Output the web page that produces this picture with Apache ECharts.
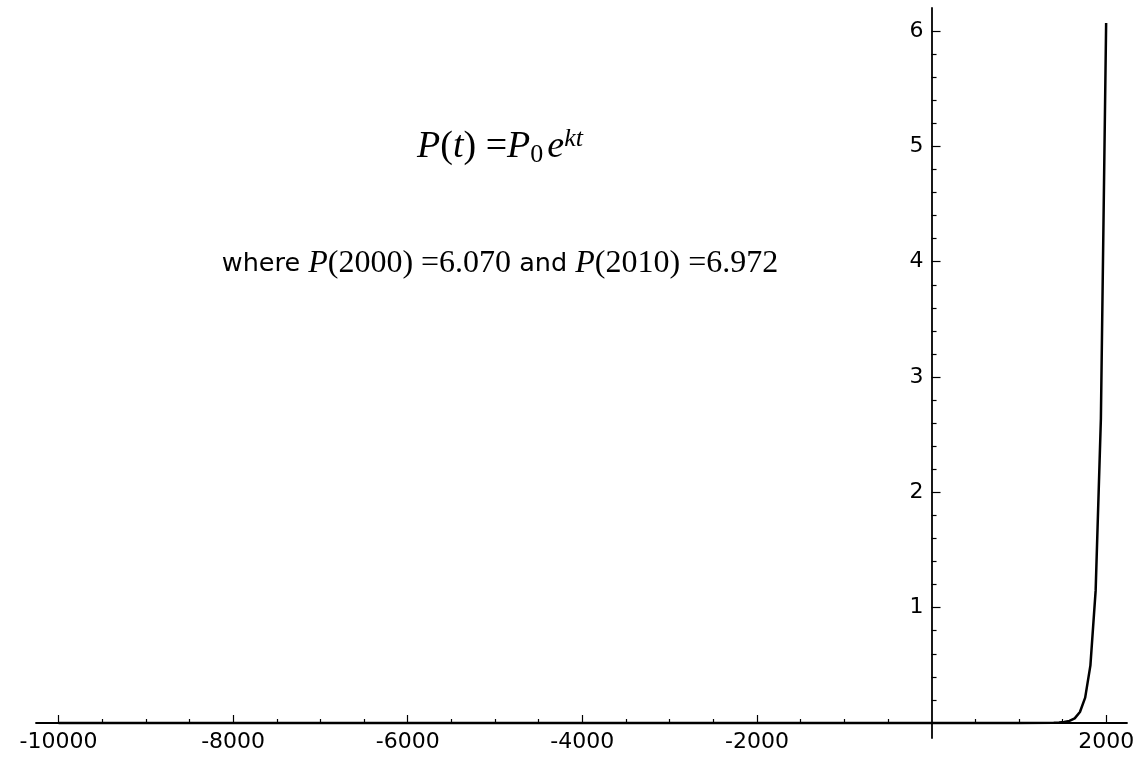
<!DOCTYPE html>
<html>
<head>
<meta charset="utf-8">
<script src="https://cdn.jsdelivr.net/npm/echarts@6/dist/echarts.min.js"></script>
<style>html,body{margin:0;padding:0;background:#fff;}#chart{width:1142px;height:757px;}</style>
</head>
<body>
<div id="chart"></div>
<script>
// Curve samples (t, P(t))
const tValues = [-10000, -8000, -6000, -4000, -2000, 0, 1000, 1400, 1460, 1520, 1580, 1640, 1700, 1760, 1820, 1880, 1940, 2000];
const pValues = [0, 0, 0, 0, 0, 0, 0, 0.002, 0.004, 0.008, 0.018, 0.04, 0.095, 0.22, 0.5, 1.15, 2.64, 6.07];

const xMajorTicks = [-10000, -8000, -6000, -4000, -2000, 2000];
const xLabels = [-10000, -8000, -6000, -4000, -2000, 2000];
const xMinorTicks = [-9500, -9000, -8500, -7500, -7000, -6500, -5500, -5000, -4500, -3500, -3000, -2500, -1500, -1000, -500, 500, 1000, 1500];
const yMajorTicks = [1, 2, 3, 4, 5, 6];
const yLabels = [1, 2, 3, 4, 5, 6];
const yMinorTicks = [0.2, 0.4, 0.6, 0.8, 1.2, 1.4, 1.6, 1.8, 2.2, 2.4, 2.6, 2.8, 3.2, 3.4, 3.6, 3.8, 4.2, 4.4, 4.6, 4.8, 5.2, 5.4, 5.6, 5.8];

const formulaText = '{i|P}{n|(}{i|t}{n|) =}{i|P}{sub|0}{i|e}{sup|kt}';
const subtitleText = '{s|where }{i|P}{n|(2000) =6.070}{s| and }{i|P}{n|(2010) =6.972}';

const X_MIN = -10258, X_MAX = 2239;
const Y_MAX = 6.2, Y_EXT_MIN = -0.13;

const chart = echarts.init(document.getElementById('chart'), null, {renderer: 'canvas'});
const pts = tValues.map((t, i) => [t, pValues[i]]);

const labelFont = {fontFamily: 'DejaVu Sans', fontSize: 22, color: '#000'};
const serif = 'Liberation Serif';
const GRID_LEFT = 36, GRID_RIGHT = 15;
// pixel of x = 0 within the main grid
const ZERO_X = GRID_LEFT + (0 - X_MIN) / (X_MAX - X_MIN) * (1142 - GRID_LEFT - GRID_RIGHT);

const hiddenAxis = {
  axisLine: {show: false}, axisTick: {show: false}, axisLabel: {show: false}, splitLine: {show: false}
};
const fmt = v => String(v);

chart.setOption({
  animation: false,
  backgroundColor: '#fff',
  grid: [
    {left: GRID_LEFT, right: GRID_RIGHT, top: 8, bottom: 34, containLabel: false, outerBoundsMode: 'none'},
    {left: ZERO_X, right: 10, top: 8, bottom: 19, containLabel: false, outerBoundsMode: 'none'}
  ],
  title: [
    {
      text: formulaText, left: 495, top: 121, textAlign: 'center',
      textStyle: {
        fontWeight: 'normal',
        rich: {
          i: {fontFamily: serif, fontStyle: 'italic', fontWeight: 'normal', fontSize: 38, color: '#000'},
          n: {fontFamily: serif, fontWeight: 'normal', fontSize: 38, color: '#000'},
          sub: {fontFamily: serif, fontWeight: 'normal', fontSize: 26, color: '#000', padding: [15, 4, 0, 0]},
          sup: {fontFamily: serif, fontStyle: 'italic', fontWeight: 'normal', fontSize: 26, color: '#000', padding: [0, 0, 17, 0]}
        }
      }
    },
    {
      text: subtitleText, left: 495, top: 243, textAlign: 'center',
      textStyle: {
        fontWeight: 'normal',
        rich: {
          s: {fontFamily: 'DejaVu Sans', fontWeight: 'normal', fontSize: 25.5, color: '#000'},
          i: {fontFamily: serif, fontStyle: 'italic', fontWeight: 'normal', fontSize: 32, color: '#000'},
          n: {fontFamily: serif, fontWeight: 'normal', fontSize: 32, color: '#000'}
        }
      }
    }
  ],
  xAxis: [
    {
      gridIndex: 0, type: 'value', min: X_MIN, max: X_MAX, position: 'bottom',
      axisLine: {show: true, onZero: false, lineStyle: {color: '#000', width: 1.8}},
      axisTick: {show: true, inside: true, length: 8, customValues: xMajorTicks, lineStyle: {color: '#000', width: 1.2}},
      axisLabel: Object.assign({show: true, customValues: xLabels, margin: 8, formatter: fmt}, labelFont),
      splitLine: {show: false}
    },
    {
      gridIndex: 0, type: 'value', min: X_MIN, max: X_MAX, position: 'bottom',
      axisLine: {show: false, onZero: false},
      axisTick: {show: true, inside: true, length: 4, customValues: xMinorTicks, lineStyle: {color: '#000', width: 1.2}},
      axisLabel: {show: false}, splitLine: {show: false}
    },
    Object.assign({gridIndex: 1, type: 'value', min: 0, max: 1}, hiddenAxis)
  ],
  yAxis: [
    Object.assign({gridIndex: 0, type: 'value', min: 0, max: Y_MAX}, hiddenAxis),
    {
      gridIndex: 1, type: 'value', min: Y_EXT_MIN, max: Y_MAX, position: 'left',
      axisLine: {show: true, onZero: false, lineStyle: {color: '#000', width: 1.8}},
      axisTick: {show: true, inside: true, length: 9, customValues: yMajorTicks, lineStyle: {color: '#000', width: 1.2}},
      axisLabel: Object.assign({show: true, customValues: yLabels, margin: 8, formatter: fmt}, labelFont),
      splitLine: {show: false}
    },
    {
      gridIndex: 1, type: 'value', min: Y_EXT_MIN, max: Y_MAX, position: 'left',
      axisLine: {show: false, onZero: false},
      axisTick: {show: true, inside: true, length: 5, customValues: yMinorTicks, lineStyle: {color: '#000', width: 1.2}},
      axisLabel: {show: false}, splitLine: {show: false}
    }
  ],
  series: [{
    type: 'line', data: pts, xAxisIndex: 0, yAxisIndex: 0,
    showSymbol: false, smooth: false, clip: false,
    lineStyle: {color: '#000', width: 2.5}
  }]
});
</script>
</body>
</html>
